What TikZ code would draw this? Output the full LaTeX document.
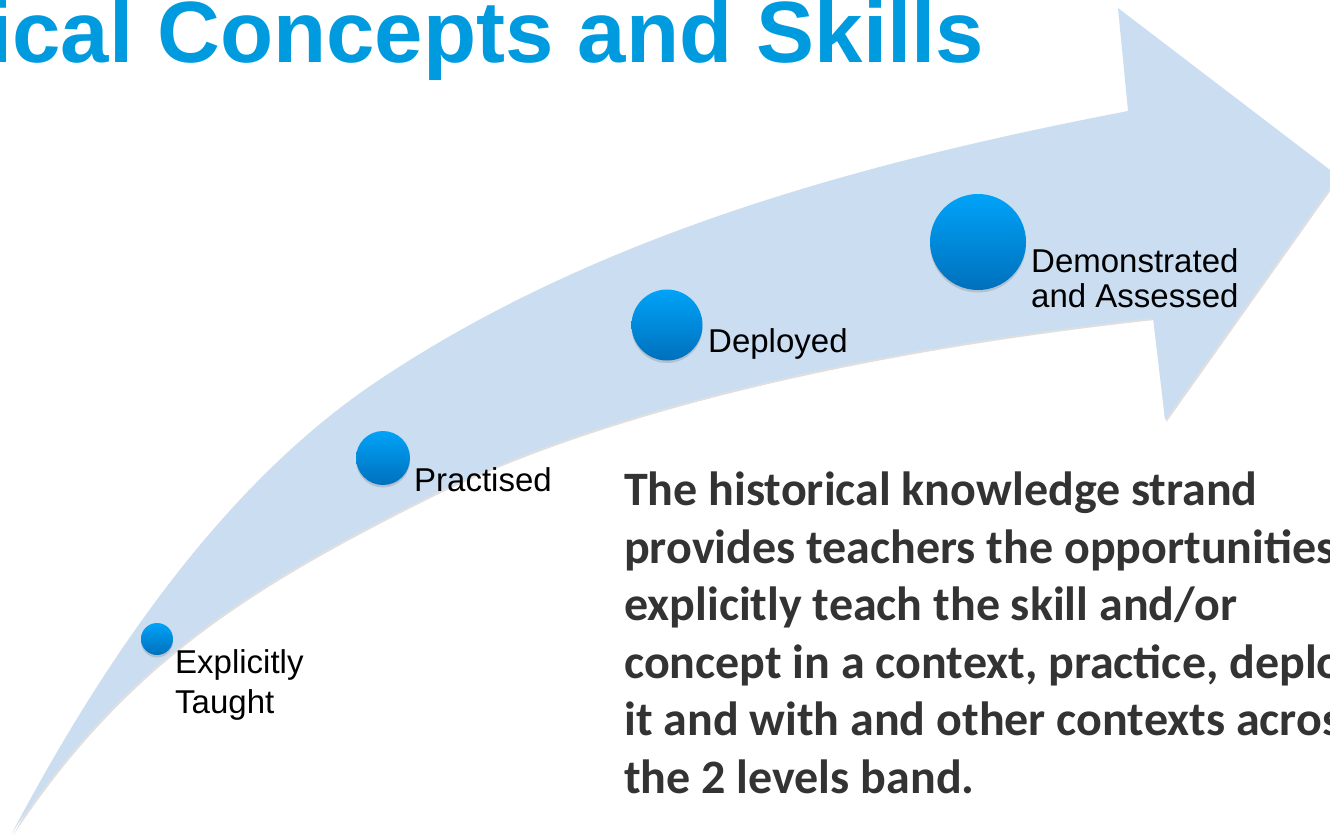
\documentclass[tikz,border=0pt]{standalone}
\usepackage{fontspec}
\setmainfont{Liberation Sans}
\newfontfamily\notefont{Carlito}
\usetikzlibrary{shadows}
\definecolor{titleblue}{RGB}{0,155,223}
\definecolor{bandblue}{RGB}{202,221,241}
\definecolor{dottop}{RGB}{0,163,248}
\definecolor{dotbot}{RGB}{0,112,188}
\definecolor{notegray}{RGB}{51,51,51}

\begin{document}
\begin{tikzpicture}[x=1pt,y=-1pt,
  dot/.style={circle,inner sep=0pt,top color=dottop,bottom color=dotbot,
    drop shadow={shadow xshift=0pt,shadow yshift=-2.5pt,opacity=0.3}},
  lbl/.style={inner sep=0pt,align=left,font=\fontsize{33}{38}\selectfont}]
\useasboundingbox (0,0) rectangle (1330,836);
\clip (0,0) rectangle (1330,836);

%Shape: Curved Arrow [id:band]
\fill[bandblue,drop shadow={shadow xshift=1.5pt,shadow yshift=-2pt,opacity=0.25}] (12,833) .. controls (101,665) and (221,485) .. (379,380) .. controls (599,233) and (868,161) .. (1128,111) -- (1118,8) -- (1338,176) -- (1165,420) -- (1153,318) .. controls (904,345) and (620,400) .. (421,500) .. controls (242,590) and (122,667) .. (12,833) -- cycle ;

%Shape: Circles [id:dots]
\node (taught) [dot,minimum size=32] at (157,639) {};
\node (practised) [dot,minimum size=54] at (383,458) {};
\node (deployed) [dot,minimum size=71] at (667,325) {};
\node (assessed) [dot,minimum size=96] at (978,242) {};

% Text Node
\node (title) [anchor=base west,inner sep=0pt,font=\bfseries\fontsize{87}{90}\selectfont,text=titleblue] at (-12,62) {ical Concepts and Skills};
% Text Node
\node (taughtlbl) [lbl,anchor=north west,font=\fontsize{33}{40}\selectfont] at (175,649.4) {Explicitly\\Taught};
% Text Node
\node (practisedlbl) [lbl,anchor=base west] at (414,491) {Practised};
% Text Node
\node (deployedlbl) [lbl,anchor=base west] at (708,352) {Deployed};
% Text Node
\node (assessedlbl) [lbl,anchor=north west,font=\fontsize{33}{35}\selectfont] at (1031,248.4) {Demonstrated\\and Assessed};
% Text Node
\node (note) [anchor=north west,inner sep=0pt,align=left,text=notegray,font=\notefont\bfseries\fontsize{48}{57.5}\selectfont] at (624,472) {The historical knowledge strand\\provides teachers the opportunities\\explicitly teach the skill and/or\\concept in a context, practice, deploy\\it and with and other contexts across\\the 2 levels band.};

\end{tikzpicture}
\end{document}
